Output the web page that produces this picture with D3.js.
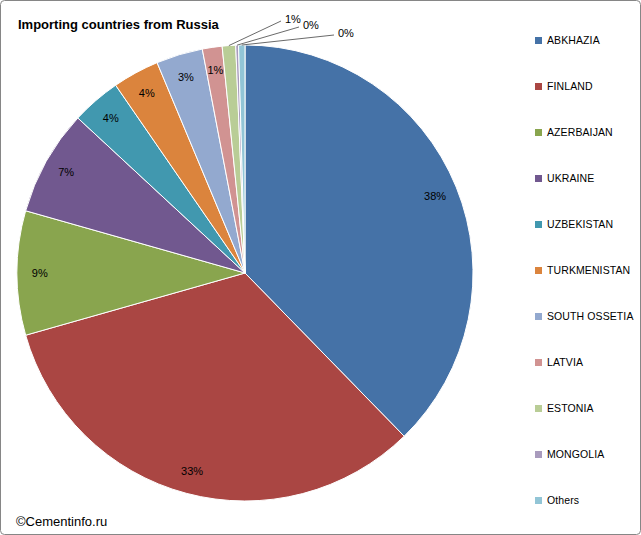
<!DOCTYPE html><html><head><script src="https://cdn.jsdelivr.net/npm/d3@7"></script>
<style>body{margin:0;background:#fff}text{font-family:"Liberation Sans",Arial,sans-serif;fill:#000}</style></head><body>
<svg id="c" width="641" height="535"></svg>
<script>
const categories=["ABKHAZIA","FINLAND","AZERBAIJAN","UKRAINE","UZBEKISTAN","TURKMENISTAN","SOUTH OSSETIA","LATVIA","ESTONIA","MONGOLIA","Others"];
const values=[37.7,32.9,8.8,7.5,3.5,3.3,3.3,1.4,0.95,0.2,0.45];
const labels=["38%","33%","9%","7%","4%","4%","3%","1%","1%","0%","0%"];
const colors=["#4572A7","#AA4643","#89A54E","#71588F","#4198AF","#DB843D","#93A9CF","#D19392","#B9CD96","#A99BBD","#92C5D6"];
const svg=d3.select("#c");
svg.append("rect").attr("x",0.5).attr("y",0.5).attr("width",640).attr("height",534).attr("rx",4).attr("fill","#fff").attr("stroke","#868686");
svg.append("text").attr("x",18).attr("y",29).attr("font-size",13).attr("font-weight","bold").text("Importing countries from Russia");
svg.append("text").attr("x",16).attr("y",526).attr("font-size",13).text("©Cementinfo.ru");
const cx=245,cy=273,R=228;
const pie=d3.pie().sort(null).value(d=>d)(values);
const arc=d3.arc().innerRadius(0).outerRadius(R);
const g=svg.append("g").attr("transform",`translate(${cx},${cy})`);
g.selectAll("path").data(pie).join("path").attr("d",arc).attr("fill",(d,i)=>colors[i]).attr("stroke","#fff").attr("stroke-width",1);
const outside={8:[40,-254],9:[58,-248],10:[93,-240]};
pie.forEach((d,i)=>{
  const a=(d.startAngle+d.endAngle)/2;
  if(outside[i]){
    const [lx,ly]=outside[i];
    const px=Math.sin(a)*R,py=-Math.cos(a)*R;
    g.append("path").attr("d",`M${px},${py}L${lx-4},${ly+2}`).attr("stroke","#444").attr("fill","none").attr("stroke-width",0.8);
    g.append("text").attr("x",lx).attr("y",ly+4).attr("font-size",11).text(labels[i]);
  } else {
    const r=0.9*R;
    g.append("text").attr("x",Math.sin(a)*r).attr("y",-Math.cos(a)*r+4).attr("text-anchor","middle").attr("font-size",11).text(labels[i]);
  }
});
const lg=svg.append("g");
categories.forEach((c,i)=>{
  const y=40+i*46;
  lg.append("rect").attr("x",535).attr("y",y-3).attr("width",7).attr("height",7).attr("fill",colors[i]);
  lg.append("text").attr("x",547).attr("y",y+4).attr("font-size",10.5).attr("letter-spacing",0.1).text(c);
});
</script></body></html>
